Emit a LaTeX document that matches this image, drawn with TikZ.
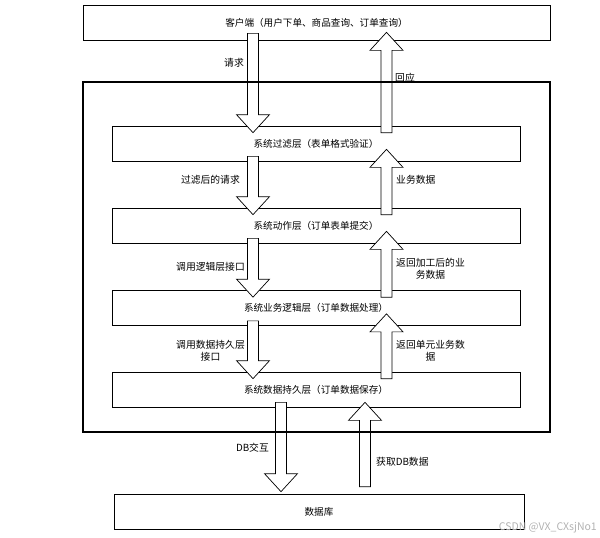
\documentclass[tikz,border=0pt]{standalone}
\usepackage{fontspec}
\setmainfont{Noto Sans CJK SC}
\usetikzlibrary{calc, positioning}

\tikzset{
  layer/.style={draw, line width=0.7pt, minimum height=35pt, inner sep=0pt,
    font=\fontsize{9.6}{12}\selectfont},
  fatarrow/.style={draw, fill=white, line width=0.7pt, line join=miter},
  lbl/.style={font=\fontsize{9.8}{12.5}\selectfont, align=center, inner sep=0pt},
}

% hollow block arrow from #1 to tip #2
\newcommand{\blockarrow}[2]{%
  \draw[fatarrow] ($(#1)+(-5.5,0)$) -- ($(#2)!18pt!(#1)+(-5.5,0)$)
    -- ($(#2)!18pt!(#1)+(-16.5,0)$) -- (#2) -- ($(#2)!18pt!(#1)+(16.5,0)$)
    -- ($(#2)!18pt!(#1)+(5.5,0)$) -- ($(#1)+(5.5,0)$) -- cycle;}

\begin{document}
\begin{tikzpicture}[x=1pt, y=-1pt]
\useasboundingbox (0,0) rectangle (600,538);

% columns of the arrows
\coordinate (colL) at (253,0);
\coordinate (colR) at (386.5,0);
\coordinate (dbL) at (281,0);
\coordinate (dbR) at (365,0);

% boxes
\node[layer, minimum width=467pt] (client) at (316.5,22.5) {客户端（用户下单、商品查询、订单查询）};
\node[layer, minimum width=408pt] (filter) at (316,143.5) {系统过滤层（表单格式验证）};
\node[layer, minimum width=408pt] (action) at (316,225.5) {系统动作层（订单表单提交）};
\node[layer, minimum width=408pt] (logic) at (316,308) {系统业务逻辑层（订单数据处理）};
\node[layer, minimum width=408pt] (persist) at (316,389.5) {系统数据持久层（订单数据保存）};
\node[layer, minimum width=410pt] (db) at (319,511.5) {数据库};

% arrows between the layers
\foreach \a/\b/\o/\p in {client/filter/7/8, filter/action/5/12, action/logic/5/12, logic/persist/5/12} {
  \coordinate (dn-s) at ($(colL |- \a.south)+(0,-\o)$);
  \coordinate (dn-t) at ($(colL |- \b.north)+(0,7)$);
  \blockarrow{dn-s}{dn-t}
  \coordinate (up-s) at ($(colR |- \b.north)+(0,7)$);
  \coordinate (up-t) at ($(colR |- \a.south)+(0,-\p)$);
  \blockarrow{up-s}{up-t}
}

% arrows to the database
\coordinate (dbdn-s) at ($(dbL |- persist.south)+(0,-5)$);
\coordinate (dbdn-t) at ($(dbL |- db.north)+(0,-2)$);
\blockarrow{dbdn-s}{dbdn-t}
\coordinate (dbup-s) at ($(dbR |- db.north)+(0,-7)$);
\coordinate (dbup-t) at ($(dbR |- persist.south)+(0,-5)$);
\blockarrow{dbup-s}{dbup-t}

% system frame
\node[draw, line width=2.5pt, minimum width=467pt, minimum height=350pt, inner sep=0pt] (frame) at (316.5,257) {};

% labels
\node[lbl, anchor=east] (req) at (244,63) {请求};
\node[lbl, anchor=west] (resp) at (395,78) {回应};
\node[lbl, anchor=east] (freq) at (240,180) {过滤后的请求};
\node[lbl, anchor=west] (bdata) at (396,180) {业务数据};
\node[lbl, anchor=east] (calllogic) at (245,267) {调用逻辑层接口};
\node[lbl, anchor=west] (retproc) at (396,269) {返回加工后的业\\务数据};
\node[lbl, anchor=east] (callpersist) at (245,351) {调用数据持久层\\接口};
\node[lbl, anchor=west] (retunit) at (396,351) {返回单元业务数\\据};
\node[lbl, anchor=east] (dbio) at (269,448) {DB交互};
\node[lbl, anchor=west] (dbget) at (376,462) {获取DB数据};

\node[font=\fontsize{10.5}{12}\selectfont, text=gray!60, anchor=east, inner sep=0pt] (mark) at (597,528) {CSDN @VX\_CXsjNo1};

\end{tikzpicture}
\end{document}
